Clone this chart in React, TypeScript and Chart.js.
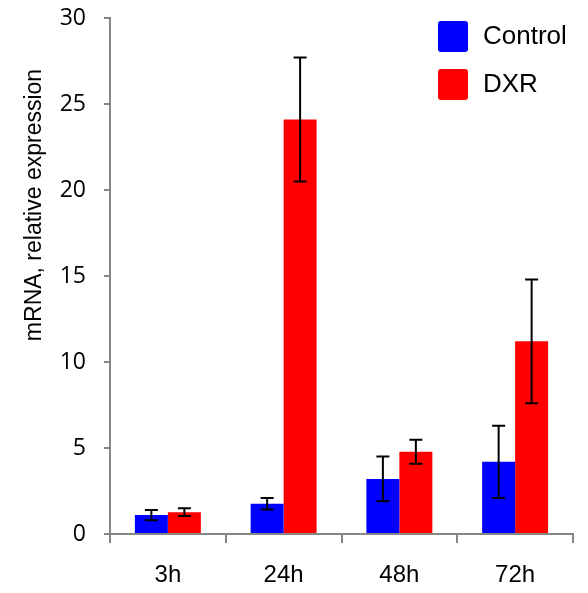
import React, { useEffect, useRef } from "react";
import { Chart, registerables } from "chart.js";

Chart.register(...registerables);

const categories = ["3h", "24h", "48h", "72h"];
const controlValues = [1.1, 1.76, 3.2, 4.2];
const controlErrors = [0.3, 0.33, 1.3, 2.1];
const dxrValues = [1.27, 24.1, 4.78, 11.2];
const dxrErrors = [0.22, 3.6, 0.7, 3.6];
const seriesNames = ["Control", "DXR"];
const seriesColors = ["#0000FF", "#FF0000"];
const yTicks = [0, 5, 10, 15, 20, 25, 30];
const yTitle = "mRNA, relative expression";

const AXIS = "#868686";

const errorBarPlugin = {
  id: "errorBars",
  afterDatasetsDraw(chart: any) {
    const ctx = chart.ctx;
    const y = chart.scales.y;
    chart.data.datasets.forEach((ds: any, di: number) => {
      const meta = chart.getDatasetMeta(di);
      const errs = ds.errors as number[];
      meta.data.forEach((bar: any, i: number) => {
        const v = ds.data[i];
        const e = errs[i];
        const x = bar.x;
        const yh = y.getPixelForValue(v + e);
        const yl = y.getPixelForValue(v - e);
        ctx.save();
        ctx.strokeStyle = "#000";
        ctx.lineWidth = 2;
        ctx.beginPath();
        ctx.moveTo(x, yh);
        ctx.lineTo(x, yl);
        ctx.moveTo(x - 6.5, yh);
        ctx.lineTo(x + 6.5, yh);
        ctx.moveTo(x - 6.5, yl);
        ctx.lineTo(x + 6.5, yl);
        ctx.stroke();
        ctx.restore();
      });
    });
  },
};

const legendPlugin = {
  id: "customLegend",
  afterDraw(chart: any) {
    const ctx = chart.ctx;
    const x0 = 438;
    const ys = [21, 69];
    chart.data.datasets.forEach((ds: any, i: number) => {
      const yy = ys[i];
      ctx.save();
      ctx.fillStyle = ds.backgroundColor;
      ctx.beginPath();
      (ctx as any).roundRect(x0, yy, 30, 31, 3);
      ctx.fill();
      ctx.fillStyle = "#000";
      ctx.font = "26px 'Liberation Sans', Arial, sans-serif";
      ctx.textBaseline = "middle";
      ctx.textAlign = "left";
      ctx.fillText(ds.label, 483, yy + 16);
      ctx.restore();
    });
  },
};

const yTitlePlugin = {
  id: "yTitle",
  afterDraw(chart: any) {
    const ctx = chart.ctx;
    ctx.save();
    ctx.translate(35, 205);
    ctx.rotate(-Math.PI / 2);
    ctx.fillStyle = "#000";
    ctx.font = "23px 'Liberation Sans', Arial, sans-serif";
    ctx.textAlign = "center";
    ctx.textBaseline = "middle";
    ctx.fillText(yTitle, 0, 0);
    ctx.restore();
  },
};

export default function App() {
  const ref = useRef<HTMLCanvasElement | null>(null);
  useEffect(() => {
    if (!ref.current) return;
    const chart = new Chart(ref.current, {
      type: "bar",
      data: {
        labels: categories,
        datasets: [
          {
            label: seriesNames[0],
            data: controlValues,
            errors: controlErrors,
            backgroundColor: seriesColors[0],
            borderWidth: 0,
          } as any,
          {
            label: seriesNames[1],
            data: dxrValues,
            errors: dxrErrors,
            backgroundColor: seriesColors[1],
            borderWidth: 0,
          } as any,
        ],
      },
      options: {
        animation: false,
        responsive: true,
        maintainAspectRatio: false,
        layout: { padding: { top: 18, right: 15, left: 0, bottom: 0 } },
        plugins: {
          legend: { display: false },
          tooltip: { enabled: false },
        },
        datasets: {
          bar: { categoryPercentage: 0.57, barPercentage: 1 },
        },
        scales: {
          x: {
            grid: {
              drawOnChartArea: false,
              drawTicks: true,
              tickLength: 9,
              color: AXIS,
              lineWidth: 2,
              offset: true,
            },
            border: { color: AXIS, width: 2 },
            ticks: {
              color: "#000",
              padding: 18,
              font: { family: "'Liberation Sans', Arial, sans-serif", size: 24 },
            },
            afterFit(scale: any) {
              scale.height = 59;
              scale.paddingLeft = 0;
              scale.paddingRight = 0;
            },
          },
          y: {
            min: 0,
            max: 30,
            afterBuildTicks(scale: any) {
              scale.ticks = yTicks.map((v) => ({ value: v }));
            },
            grid: {
              drawOnChartArea: false,
              drawTicks: true,
              tickLength: 6,
              color: AXIS,
              lineWidth: 2,
            },
            border: { color: AXIS, width: 2 },
            ticks: {
              color: "#000",
              padding: 18,
              font: { family: "'Open Sans', sans-serif", size: 23 },
            },
            title: { display: false },
            afterFit(scale: any) {
              scale.width = 110;
              scale.paddingTop = 0;
              scale.paddingBottom = 0;
            },
          },
        },
      },
      plugins: [errorBarPlugin, legendPlugin, yTitlePlugin],
    } as any);
    return () => chart.destroy();
  }, []);
  return (
    <div style={{ position: "fixed", left: 0, top: 0, width: 588, height: 593, background: "#fff" }}>
      <canvas ref={ref} />
    </div>
  );
}
